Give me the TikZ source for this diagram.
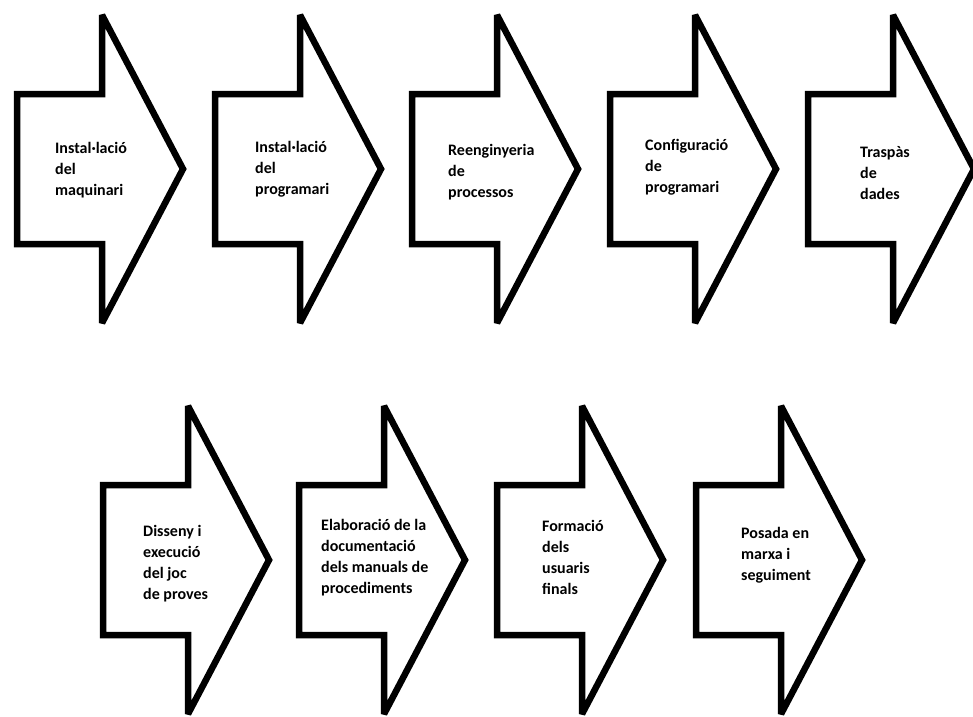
\documentclass[tikz,border=0pt]{standalone}
\usepackage{fontspec}
\setmainfont{Carlito}
\usepackage{tikz}

\begin{document}
\begin{tikzpicture}[
        x=1pt, y=-1pt,
        % Style cho các mũi tên khối
        arrowshape/.style={draw=black, line width=6.5pt, line join=miter, miter limit=1.5, fill=white},
        % Style cho chữ bên trong mũi tên (neo ở dòng đầu tiên)
        steptext/.style={anchor=north west, align=left, inner sep=0pt, text=black, font=\bfseries\fontsize{16}{20.8}\selectfont}
    ]
    \useasboundingbox (0,0) rectangle (973,716);

    % --- 1. HÀNG TRÊN (5 MŨI TÊN) ---
    \draw[arrowshape] (17,94) -- ++(85,0) -- ++(0,-79) -- ++(81,154) -- ++(-81,154) -- ++(0,-79) -- ++(-85,0) -- cycle;
    \draw[arrowshape] (215,94) -- ++(85,0) -- ++(0,-79) -- ++(81,154) -- ++(-81,154) -- ++(0,-79) -- ++(-85,0) -- cycle;
    \draw[arrowshape] (412,94) -- ++(85,0) -- ++(0,-79) -- ++(81,154) -- ++(-81,154) -- ++(0,-79) -- ++(-85,0) -- cycle;
    \draw[arrowshape] (610,94) -- ++(85,0) -- ++(0,-79) -- ++(81,154) -- ++(-81,154) -- ++(0,-79) -- ++(-85,0) -- cycle;
    \draw[arrowshape] (808,94) -- ++(85,0) -- ++(0,-79) -- ++(81,154) -- ++(-81,154) -- ++(0,-79) -- ++(-85,0) -- cycle;

    % dòng đầu: baseline = y + 14.56 (\strut)
    \node[steptext] (S1) at (55,139) {\strut Instal·lació\\del\\maquinari};
    \node[steptext] (S2) at (255,138) {\strut Instal·lació\\del\\programari};
    \node[steptext] (S3) at (448,141) {\strut Reenginyeria\\de\\processos};
    \node[steptext] (S4) at (645,136) {\strut Configuració\\de\\programari};
    \node[steptext] (S5) at (860,143) {\strut Traspàs\\de\\dades};

    % --- 2. HÀNG DƯỚI (4 MŨI TÊN) ---
    \draw[arrowshape] (103,485) -- ++(85,0) -- ++(0,-79) -- ++(81,154) -- ++(-81,154) -- ++(0,-79) -- ++(-85,0) -- cycle;
    \draw[arrowshape] (299,485) -- ++(85,0) -- ++(0,-79) -- ++(81,154) -- ++(-81,154) -- ++(0,-79) -- ++(-85,0) -- cycle;
    \draw[arrowshape] (497,485) -- ++(85,0) -- ++(0,-79) -- ++(81,154) -- ++(-81,154) -- ++(0,-79) -- ++(-85,0) -- cycle;
    \draw[arrowshape] (696,485) -- ++(85,0) -- ++(0,-79) -- ++(81,154) -- ++(-81,154) -- ++(0,-79) -- ++(-85,0) -- cycle;

    \node[steptext] (S6) at (143,522) {\strut Disseny i\\execució\\del joc\\de proves};
    \node[steptext] (S7) at (321,516) {\strut Elaboració de la\\documentació\\dels manuals de\\procediments};
    \node[steptext] (S8) at (542,517) {\strut Formació\\dels\\usuaris\\finals};
    \node[steptext] (S9) at (741,524) {\strut Posada en\\marxa i\\seguiment};

\end{tikzpicture}
\end{document}
